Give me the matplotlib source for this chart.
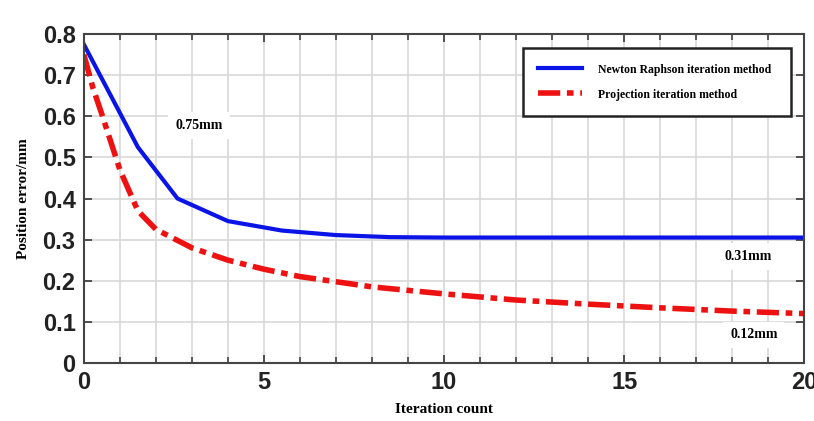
import matplotlib.pyplot as plt
from matplotlib.ticker import MultipleLocator

# Dados
nr_iter = [0, 1.5, 2.6, 4, 5.5, 7, 8.5, 10, 20]
nr_error = [0.775, 0.525, 0.40, 0.345, 0.322, 0.311, 0.306, 0.305, 0.305]

proj_iter = [0, 0.25, 0.5, 1, 1.5, 2, 3, 4, 5, 6, 8, 10, 12, 14, 16, 18, 20]
proj_error = [0.75, 0.67, 0.605, 0.47, 0.37, 0.325, 0.28, 0.25, 0.228, 0.21, 0.185,
              0.168, 0.153, 0.143, 0.134, 0.126, 0.12]

labels = ["Newton Raphson iteration method", "Projection iteration method"]
notes = [("0.75mm", 3.2, 0.578), ("0.31mm", 18.45, 0.258), ("0.12mm", 18.6, 0.068)]

serif = ["Liberation Serif", "DejaVu Serif"]
sans = ["Liberation Sans", "DejaVu Sans"]

fig = plt.figure(figsize=(8.14, 4.21), dpi=100)
ax = fig.add_axes([0.103, 0.138, 0.885, 0.781])

ax.plot(nr_iter, nr_error, color="#0a14e6", linewidth=3, label=labels[0])
ax.plot(proj_iter, proj_error, color="#ee1111", linewidth=4,
        linestyle=(0, (4, 1.2, 1.2, 1.2)), label=labels[1])

ax.set_xlim(0, 20)
ax.set_ylim(0, 0.8)
ax.xaxis.set_major_locator(MultipleLocator(5))
ax.xaxis.set_minor_locator(MultipleLocator(1))
ax.set_yticks([i / 10 for i in range(9)])
ax.set_yticklabels(["0", "0.1", "0.2", "0.3", "0.4", "0.5", "0.6", "0.7", "0.8"])

ax.grid(which="both", color="#d8d8d8", linewidth=1.2)
ax.set_axisbelow(True)
ax.tick_params(which="both", direction="in", top=True, right=True, color="#444444")
ax.tick_params(which="major", length=6, width=1.3, pad=6)
ax.tick_params(which="minor", length=4, width=1.2)
for lab in ax.get_xticklabels() + ax.get_yticklabels():
    lab.set_family(sans)
    lab.set_fontweight("bold")
    lab.set_fontsize(17)
    lab.set_color("#222222")
for sp in ax.spines.values():
    sp.set_color("#444444")
    sp.set_linewidth(1.5)

ax.set_xlabel("Iteration count", family=serif, fontweight="bold", fontsize=11, labelpad=6)
ax.set_ylabel("Position error/mm", family=serif, fontweight="bold", fontsize=11, labelpad=9)

for txt, x, y in notes:
    ax.text(x, y, txt, family=serif, fontweight="bold", fontsize=10, ha="center", va="center",
            bbox=dict(facecolor="white", edgecolor="none", pad=5))

leg = ax.legend(loc="upper left", bbox_to_anchor=(0.601, 0.754, 0.389, 0.221), mode="expand",
                prop={"family": serif, "weight": "bold", "size": 8.5}, handlelength=3.7,
                borderpad=1.3, labelspacing=1.1, handletextpad=1.4, fancybox=False)
leg.get_frame().set_edgecolor("#222222")
leg.get_frame().set_linewidth(1.8)
leg.get_frame().set_alpha(1)

fig.savefig("out.png", dpi=100)
